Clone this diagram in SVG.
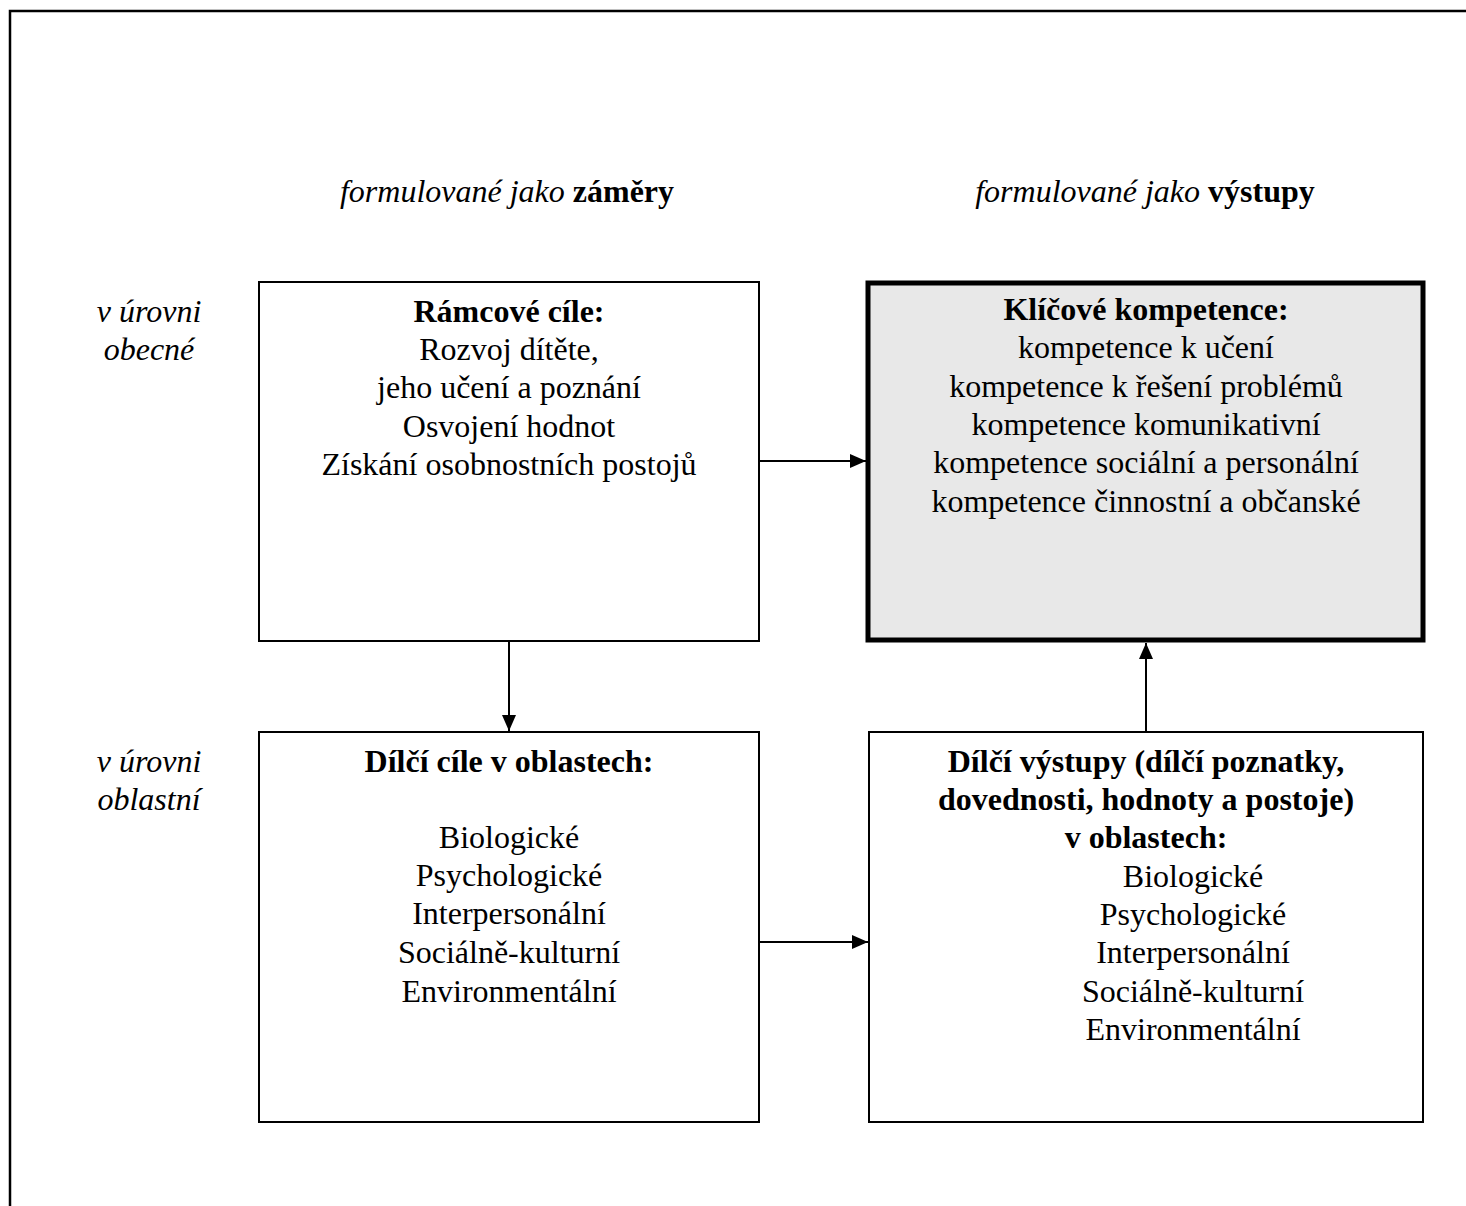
<svg xmlns="http://www.w3.org/2000/svg" width="1466" height="1206" viewBox="0 0 1466 1206">
<style>
  text { font-family: "Liberation Serif", serif; font-size: 32px; fill: #000; }
  .c { text-anchor: middle; }
  .i { font-style: italic; }
  .b { font-weight: bold; }
  .box { fill: #fff; stroke: #000; stroke-width: 2; }
  .key { fill: #e8e8e8; stroke: #000; stroke-width: 5; }
  .conn line { stroke: #000; stroke-width: 2; marker-end: url(#arr); }
</style>
<defs>
  <marker id="arr" markerUnits="userSpaceOnUse" markerWidth="16" markerHeight="16" viewBox="0 0 16 16" refX="16" refY="8" orient="auto">
    <path d="M0,1 L16,8 L0,15 Z" fill="#000"/>
  </marker>
</defs>
<rect width="1466" height="1206" fill="#fff"/>
<path d="M10,1206 V11 H1466" fill="none" stroke="#000" stroke-width="2.5"/>

<g id="headers">
  <text class="c" x="507" y="202"><tspan class="i">formulované jako </tspan><tspan class="b">záměry</tspan></text>
  <text class="c" x="1145" y="202"><tspan class="i">formulované jako </tspan><tspan class="b">výstupy</tspan></text>
</g>
<g id="row-labels">
  <text class="c i" x="149" y="322">v úrovni</text>
  <text class="c i" x="149" y="360">obecné</text>
  <text class="c i" x="149" y="772">v úrovni</text>
  <text class="c i" x="149" y="810">oblastní</text>
</g>

<g id="ramcove-cile">
  <rect class="box" x="259" y="282" width="500" height="359"/>
  <text class="c b" x="509" y="322">Rámcové cíle:</text>
  <text class="c" x="509" y="360">Rozvoj dítěte,</text>
  <text class="c" x="509" y="398">jeho učení a poznání</text>
  <text class="c" x="509" y="437">Osvojení hodnot</text>
  <text class="c" x="509" y="475">Získání osobnostních postojů</text>
</g>

<g id="klicove-kompetence">
  <rect class="key" x="868" y="283" width="555" height="357"/>
  <text class="c b" x="1146" y="320">Klíčové kompetence:</text>
  <text class="c" x="1146" y="358">kompetence k učení</text>
  <text class="c" x="1146" y="397">kompetence k řešení problémů</text>
  <text class="c" x="1146" y="435">kompetence komunikativní</text>
  <text class="c" x="1146" y="473">kompetence sociální a personální</text>
  <text class="c" x="1146" y="512">kompetence činnostní a občanské</text>
</g>

<g id="dilci-cile">
  <rect class="box" x="259" y="732" width="500" height="390"/>
  <text class="c b" x="509" y="772">Dílčí cíle v oblastech:</text>
  <text class="c" x="509" y="848">Biologické</text>
  <text class="c" x="509" y="886">Psychologické</text>
  <text class="c" x="509" y="924">Interpersonální</text>
  <text class="c" x="509" y="963">Sociálně-kulturní</text>
  <text class="c" x="509" y="1002">Environmentální</text>
</g>

<g id="dilci-vystupy">
  <rect class="box" x="869" y="732" width="554" height="390"/>
  <text class="c b" x="1146" y="772">Dílčí výstupy (dílčí poznatky,</text>
  <text class="c b" x="1146" y="810">dovednosti, hodnoty a postoje)</text>
  <text class="c b" x="1146" y="848">v oblastech:</text>
  <text class="c" x="1193" y="887">Biologické</text>
  <text class="c" x="1193" y="925">Psychologické</text>
  <text class="c" x="1193" y="963">Interpersonální</text>
  <text class="c" x="1193" y="1002">Sociálně-kulturní</text>
  <text class="c" x="1193" y="1040">Environmentální</text>
</g>

<g id="connectors" class="conn">
  <line x1="760" y1="461" x2="866" y2="461"/>
  <line x1="509" y1="642" x2="509" y2="731"/>
  <line x1="1146" y1="731" x2="1146" y2="643"/>
  <line x1="760" y1="942" x2="868" y2="942"/>
</g>
</svg>
